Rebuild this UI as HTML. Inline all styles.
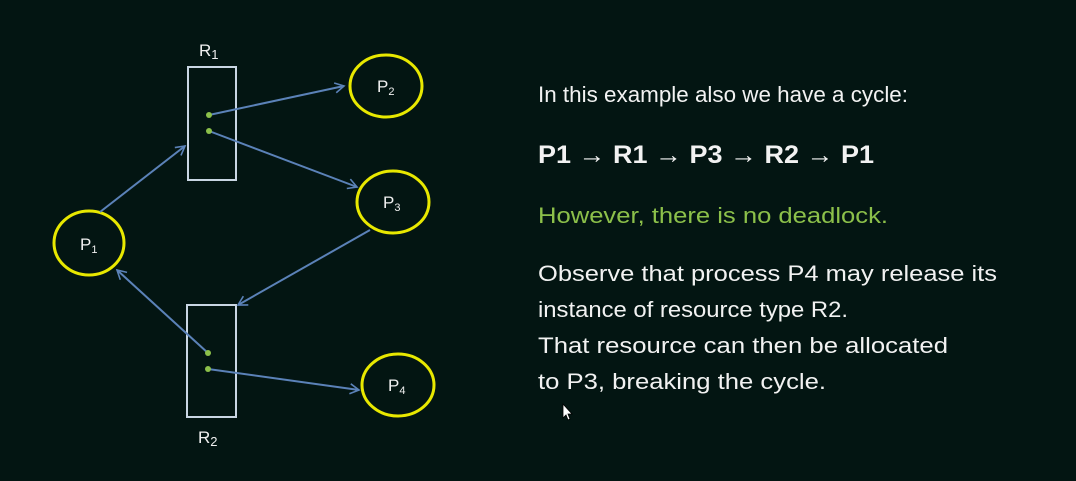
<!DOCTYPE html>
<html><head><meta charset="utf-8"><style>
html,body{margin:0;padding:0;background:#031512;}
body{width:1076px;height:481px;overflow:hidden;position:relative;font-family:"Liberation Sans",sans-serif;}
</style></head><body>
<svg width="1076" height="481" style="position:absolute;left:0;top:0">
<defs><marker id="a" markerWidth="12" markerHeight="12" refX="10" refY="6" orient="auto" markerUnits="userSpaceOnUse"><path d="M1,1 L10,6 L1,11" fill="none" stroke="#5b82b8" stroke-width="1.6"/></marker></defs>
<rect x="188" y="67" width="48" height="113" fill="none" stroke="#c9d6e3" stroke-width="2"/>
<rect x="187" y="305" width="49" height="112" fill="none" stroke="#c9d6e3" stroke-width="2"/>
<g fill="none" stroke="#e8e800" stroke-width="3">
<ellipse cx="386" cy="86" rx="36" ry="31"/>
<ellipse cx="393" cy="202" rx="36" ry="31"/>
<ellipse cx="89" cy="243" rx="35" ry="32"/>
<ellipse cx="398" cy="385" rx="36" ry="31"/>
</g>
<g stroke="#5b82b8" stroke-width="2" marker-end="url(#a)">
<line x1="100" y1="212" x2="185" y2="146"/>
<line x1="209" y1="115" x2="344" y2="86"/>
<line x1="209" y1="131" x2="357" y2="187"/>
<line x1="370" y1="230" x2="238" y2="305"/>
<line x1="208" y1="353" x2="117" y2="270"/>
<line x1="208" y1="369" x2="359" y2="390"/>
</g>
<g fill="#8cc04a"><circle cx="209" cy="115" r="3"/><circle cx="209" cy="131" r="3"/><circle cx="208" cy="353" r="3"/><circle cx="208" cy="369" r="3"/></g>
<g fill="#f0f0f0" font-family="Liberation Sans,sans-serif" font-size="17">
<text x="199" y="56">R<tspan font-size="13" dy="3">1</tspan></text>
<text x="198" y="443">R<tspan font-size="13" dy="3">2</tspan></text>
<text x="377" y="92">P<tspan font-size="11" dy="3">2</tspan></text>
<text x="383" y="208">P<tspan font-size="11" dy="3">3</tspan></text>
<text x="80" y="250">P<tspan font-size="11" dy="3">1</tspan></text>
<text x="388" y="391">P<tspan font-size="11" dy="3">4</tspan></text>
</g>
<g fill="#f2f2f2" font-family="Liberation Sans,sans-serif" font-size="22">
<text x="538" y="102" textLength="370" lengthAdjust="spacingAndGlyphs">In this example also we have a cycle:</text>
<text x="538" y="163" font-size="25" font-weight="bold" textLength="336" lengthAdjust="spacingAndGlyphs">P1 → R1 → P3 → R2 → P1</text>
<text x="538" y="223" fill="#8cc04a" textLength="350" lengthAdjust="spacingAndGlyphs">However, there is no deadlock.</text>
<text x="538" y="281" textLength="459" lengthAdjust="spacingAndGlyphs">Observe that process P4 may release its</text>
<text x="538" y="317" textLength="310" lengthAdjust="spacingAndGlyphs">instance of resource type R2.</text>
<text x="538" y="353" textLength="410" lengthAdjust="spacingAndGlyphs">That resource can then be allocated</text>
<text x="538" y="389" textLength="288" lengthAdjust="spacingAndGlyphs">to P3, breaking the cycle.</text>
</g>
<path d="M563,404 v14 l3,-3 l2,5 l2,-1 l-2,-5 l4,0 z" fill="#fff" stroke="#000" stroke-width="0.8"/>
</svg>
</body></html>
